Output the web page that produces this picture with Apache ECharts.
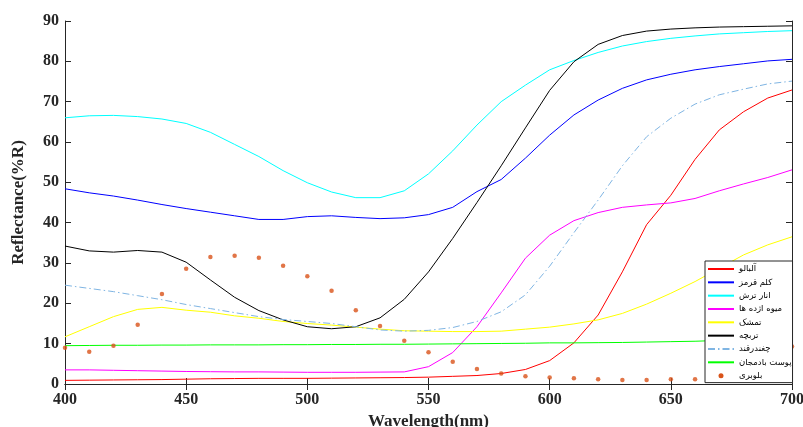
<!DOCTYPE html>
<html>
<head>
<meta charset="utf-8">
<script src="https://cdn.jsdelivr.net/npm/echarts@6/dist/echarts.min.js"></script>
<style>
  html, body { margin: 0; padding: 0; background: #fff; }
</style>
</head>
<body>
<div id="chart" style="width:803px;height:427px;"></div>
<script>
// wavelengths (nm), 10 nm steps
var wavelengths = [400, 410, 420, 430, 440, 450, 460, 470, 480, 490, 500,
                   510, 520, 530, 540, 550, 560, 570, 580, 590, 600,
                   610, 620, 630, 640, 650, 660, 670, 680, 690, 700];

var seriesNames = ['آلبالو', 'کلم قرمز', 'انار ترش', 'میوه اژده ها', 'تمشک', 'تربچه', 'چغندرقند', 'پوست بادمجان', 'بلوبری'];

var albalu = [0.9, 0.95, 1.0, 1.05, 1.1, 1.2, 1.3, 1.35, 1.4, 1.4, 1.4,
              1.45, 1.5, 1.55, 1.6, 1.7, 1.9, 2.1, 2.6, 3.6, 5.8,
              10.2, 17.1, 27.8, 39.5, 46.8, 55.7, 63.0, 67.5, 70.9, 72.9];
var kalamGhermez = [48.4, 47.4, 46.6, 45.6, 44.5, 43.5, 42.6, 41.7, 40.8, 40.8, 41.5,
                    41.7, 41.3, 41.0, 41.2, 42.0, 43.8, 47.7, 50.7, 56.0, 61.7,
                    66.7, 70.4, 73.3, 75.4, 76.8, 77.9, 78.7, 79.4, 80.1, 80.5];
var anarTorsh = [66.0, 66.5, 66.6, 66.3, 65.7, 64.6, 62.4, 59.4, 56.4, 52.9, 49.9,
                 47.6, 46.2, 46.2, 47.9, 52.1, 57.8, 64.2, 70.0, 74.1, 77.9,
                 80.2, 82.2, 83.8, 84.9, 85.7, 86.3, 86.8, 87.1, 87.4, 87.6];
var mivehEzhdeha = [3.5, 3.5, 3.4, 3.3, 3.2, 3.1, 3.05, 3.0, 3.0, 2.95, 2.9,
                    2.9, 2.9, 2.95, 3.0, 4.3, 7.8, 14.2, 22.6, 31.2, 36.9,
                    40.5, 42.5, 43.8, 44.4, 44.9, 46.0, 47.9, 49.6, 51.2, 53.1];
var tameshk = [11.7, 14.2, 16.7, 18.5, 19.0, 18.3, 17.8, 16.9, 16.3, 15.5, 15.0,
               14.6, 14.1, 13.6, 13.2, 13.1, 13.0, 13.0, 13.1, 13.6, 14.1,
               14.9, 15.9, 17.5, 19.8, 22.5, 25.4, 28.7, 32.0, 34.5, 36.5];
var torobche = [34.2, 33.0, 32.7, 33.1, 32.7, 30.2, 25.8, 21.5, 18.2, 15.9, 14.2,
                13.7, 14.2, 16.4, 21.0, 27.8, 36.1, 45.0, 54.1, 63.5, 72.8,
                79.9, 84.2, 86.4, 87.5, 88.0, 88.3, 88.5, 88.6, 88.7, 88.8];
var choghondar = [24.5, 23.7, 22.9, 21.9, 20.9, 19.7, 18.7, 17.7, 16.7, 16.0, 15.5,
                  15.0, 14.2, 13.4, 13.1, 13.3, 14.0, 15.5, 17.9, 22.1, 29.2,
                  37.5, 45.6, 54.1, 61.3, 65.9, 69.4, 71.7, 73.1, 74.4, 75.1];
var postBademjan = [9.5, 9.55, 9.6, 9.6, 9.65, 9.65, 9.7, 9.7, 9.7, 9.75, 9.75,
                    9.8, 9.8, 9.85, 9.85, 9.9, 9.95, 10.0, 10.05, 10.1, 10.2,
                    10.2, 10.25, 10.3, 10.4, 10.5, 10.6, 10.8, 11.0, 11.15, 11.3];
var bluberi = [9.0, 8.0, 9.5, 14.7, 22.3, 28.6, 31.5, 31.8, 31.3, 29.3, 26.7,
               23.1, 18.3, 14.4, 10.7, 7.9, 5.5, 3.7, 2.6, 1.9, 1.6,
               1.4, 1.2, 1.0, 1.0, 1.2, 1.2, 1.3, 1.5, 2.0, 9.3];

function pairs(vals) {
    return wavelengths.map(function (w, i) { return [w, vals[i]]; });
}

var chart = echarts.init(document.getElementById('chart'));

var lineDefs = [
    { data: albalu, color: '#ff0000' },
    { data: kalamGhermez, color: '#0000ff' },
    { data: anarTorsh, color: '#00ffff' },
    { data: mivehEzhdeha, color: '#ff00ff' },
    { data: tameshk, color: '#ffff00' },
    { data: torobche, color: '#000000' },
    { data: choghondar, color: '#7fb5e3', type: [7, 3, 1.5, 3] },
    { data: postBademjan, color: '#00ff00' }
];

var series = lineDefs.map(function (d, i) {
    return {
        name: seriesNames[i],
        type: 'line',
        data: pairs(d.data),
        symbol: 'none',
        smooth: false,
        lineStyle: { color: d.color, width: 1, type: d.type || 'solid' },
        itemStyle: { color: d.color },
        z: 2
    };
});
series.push({
    name: seriesNames[8],
    type: 'scatter',
    data: pairs(bluberi),
    symbol: 'circle',
    symbolSize: 4.5,
    itemStyle: { color: '#d95319' },
    z: 3
});

// legend entries: lines without markers, dots for the scatter
var legendData = seriesNames.map(function (n, i) {
    if (i === 8) return { name: n, itemStyle: { opacity: 1 } };
    return { name: n };
});

var axisFont = { fontFamily: 'Liberation Serif', fontWeight: 'bold', fontSize: 16, color: '#262626' };
var nameFont = { fontFamily: 'Liberation Serif', fontWeight: 'bold', fontSize: 17, color: '#262626' };

var option = {
    animation: false,
    backgroundColor: '#ffffff',
    grid: { left: 65, right: 11, top: 21, bottom: 43, containLabel: false, outerBoundsMode: 'none' },
    legend: {
        orient: 'vertical',
        left: 705,
        top: 261,
        data: legendData,
        itemWidth: 26,
        itemHeight: 5,
        itemGap: 1.33,
        padding: [2, 1, 1, 2],
        itemStyle: { opacity: 0 },
        backgroundColor: '#ffffff',
        borderColor: '#262626',
        borderWidth: 1,
        borderRadius: 0,
        textStyle: { fontSize: 8.5, lineHeight: 12, color: '#000', fontFamily: 'DejaVu Sans' }
    },
    xAxis: [{
        type: 'value',
        min: 400, max: 700, interval: 50,
        name: 'Wavelength(nm)',
        nameLocation: 'middle',
        nameGap: 22,
        nameTextStyle: nameFont,
        axisLine: { lineStyle: { color: '#262626', width: 1 } },
        axisTick: { inside: true, length: 6, lineStyle: { color: '#262626' } },
        axisLabel: axisFont,
        splitLine: { show: false }
    }, {
        type: 'value',
        position: 'top',
        min: 400, max: 700, interval: 50,
        axisLine: { show: true, lineStyle: { color: '#262626', width: 1 } },
        axisTick: { inside: true, length: 6, lineStyle: { color: '#262626' } },
        axisLabel: { show: false },
        splitLine: { show: false }
    }],
    yAxis: [{
        type: 'value',
        min: 0, max: 90, interval: 10,
        name: 'Reflectance(%R)',
        nameLocation: 'middle',
        nameGap: 38,
        nameTextStyle: nameFont,
        axisLine: { show: true, lineStyle: { color: '#262626', width: 1 } },
        axisTick: { show: true, inside: true, length: 6, lineStyle: { color: '#262626' } },
        axisLabel: Object.assign({ margin: 6 }, axisFont),
        splitLine: { show: false }
    }, {
        type: 'value',
        position: 'right',
        min: 0, max: 90, interval: 10,
        axisLine: { show: true, lineStyle: { color: '#262626', width: 1 } },
        axisTick: { show: true, inside: true, length: 6, lineStyle: { color: '#262626' } },
        axisLabel: { show: false },
        splitLine: { show: false }
    }],
    series: series
};

option && chart.setOption(option);
</script>
</body>
</html>
